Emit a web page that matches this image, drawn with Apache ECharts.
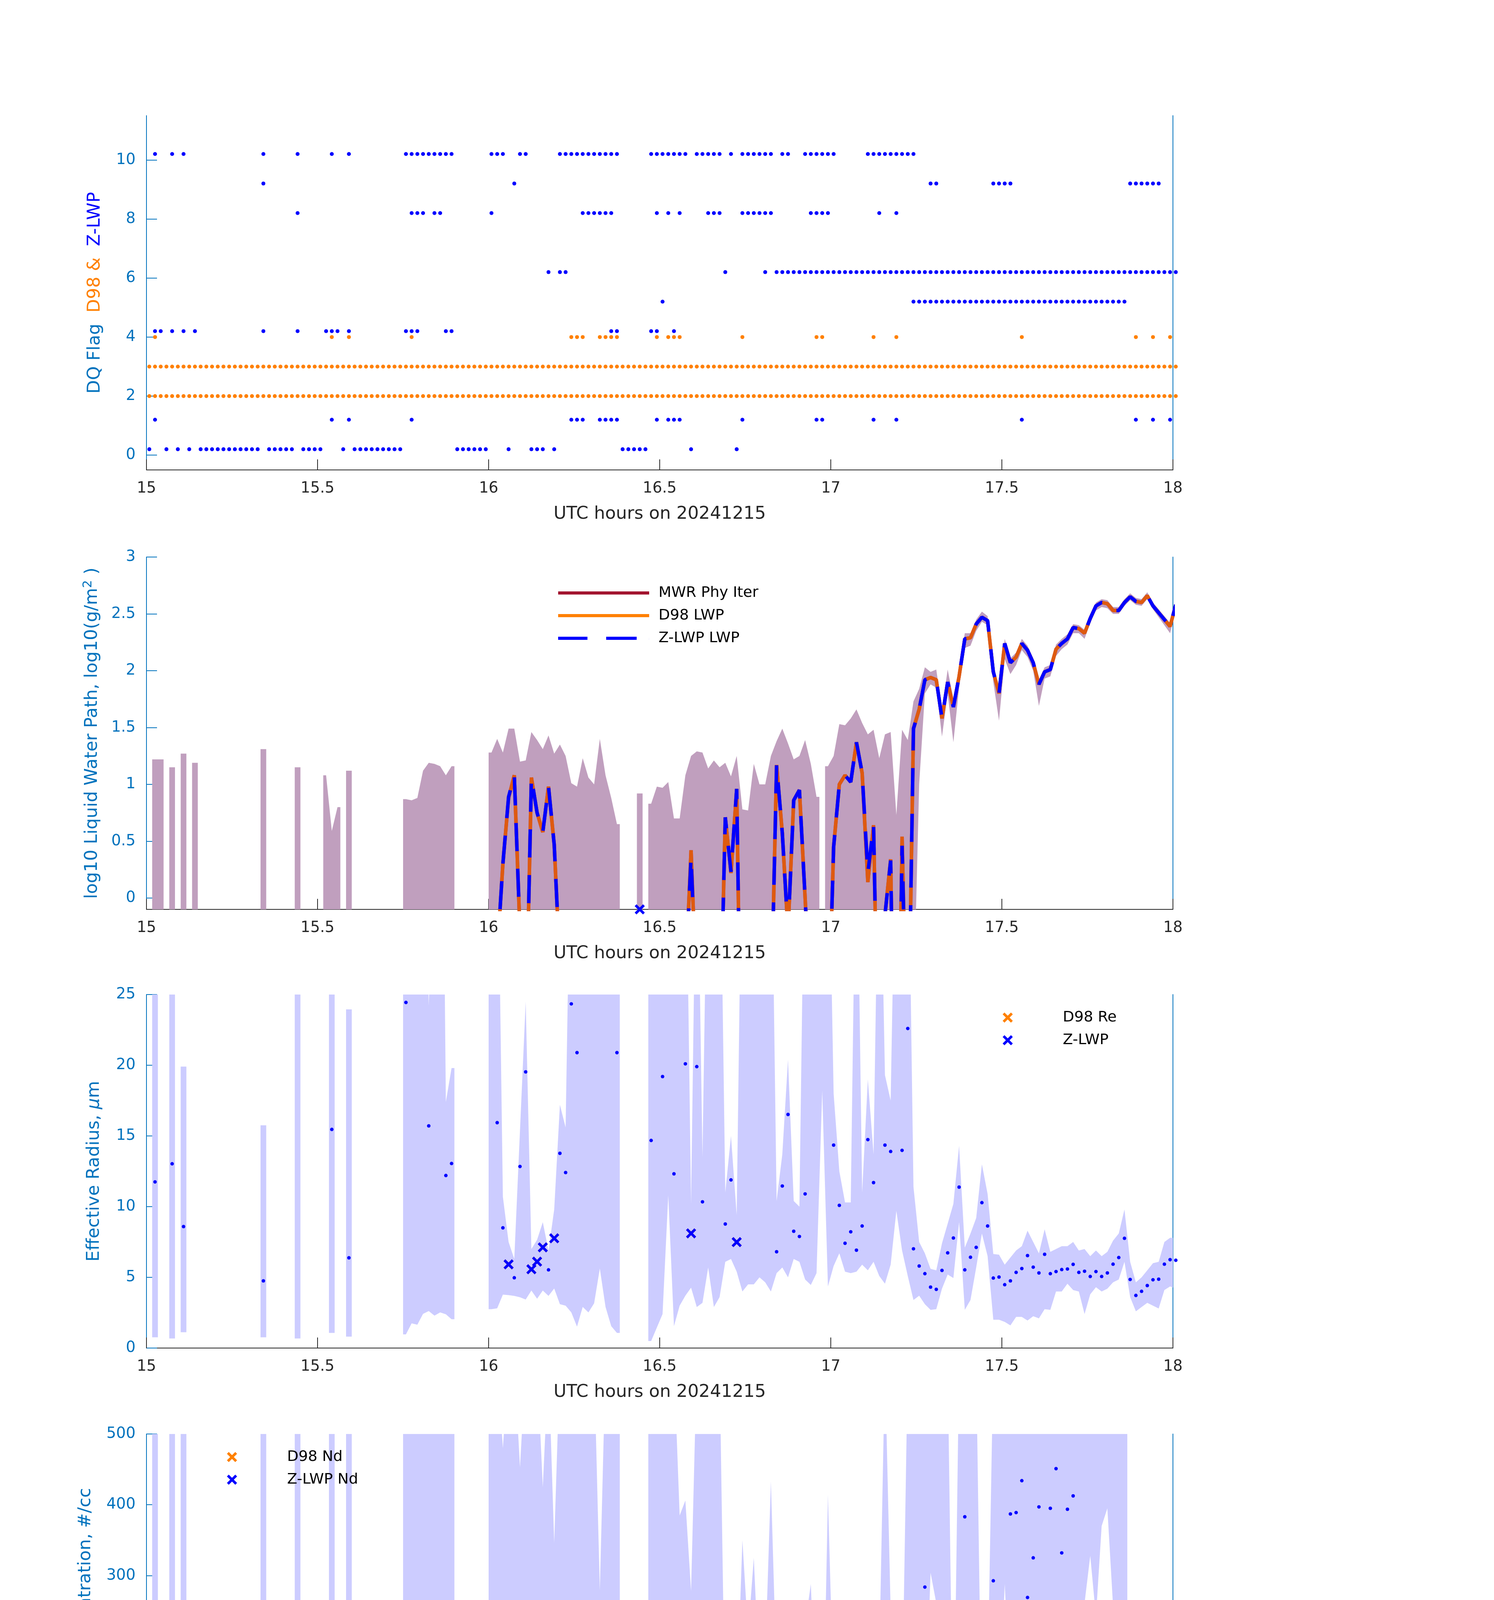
<!DOCTYPE html>
<html>
<head>
<meta charset="utf-8">
<script src="https://cdn.jsdelivr.net/npm/echarts@6/dist/echarts.min.js"></script>
<style>
html, body { margin: 0; padding: 0; background: #fff; }
#chart { width: 3825px; height: 6000px; }
</style>
</head>
<body>
<div id="chart"></div>
<script>
// one-minute bins from 15:00 UTC, bin k is centred at 15 + (k + 0.5) / 60
var startHour = 15;
var binCount = 181;
var flagTicks = [0, 2, 4, 6, 8, 10];
var lwpTicks = [0, 0.5, 1, 1.5, 2, 2.5, 3];

// ---- panel 1: data quality flags, runs of bins [first, last] ----
var d98Flag2Runs = [[0, 180]];
var d98Flag3Runs = [[0, 180]];
var d98Flag4Runs = [[1, 1], [32, 32], [35, 35], [46, 46], [74, 76], [79, 82], [89, 89], [91, 93], [104, 104], [117, 118], [127, 127], [131, 131], [153, 153], [173, 173], [176, 176], [179, 179]];
var zlwpFlag0Runs = [[0, 0], [3, 3], [5, 5], [7, 7], [9, 19], [21, 25], [27, 30], [34, 34], [36, 44], [54, 59], [63, 63], [67, 69], [71, 71], [83, 87], [95, 95], [103, 103]];
var zlwpFlag1Runs = [[1, 1], [32, 32], [35, 35], [46, 46], [74, 76], [79, 82], [89, 89], [91, 93], [104, 104], [117, 118], [127, 127], [131, 131], [153, 153], [173, 173], [176, 176], [179, 179]];
var zlwpFlag4Runs = [[1, 2], [4, 4], [6, 6], [8, 8], [20, 20], [26, 26], [31, 33], [35, 35], [45, 47], [52, 53], [81, 82], [88, 89], [92, 92]];
var zlwpFlag5Runs = [[90, 90], [134, 171]];
var zlwpFlag6Runs = [[70, 70], [72, 73], [101, 101], [108, 108], [110, 180]];
var zlwpFlag8Runs = [[26, 26], [46, 48], [50, 51], [60, 60], [76, 81], [89, 89], [91, 91], [93, 93], [98, 100], [104, 109], [116, 119], [128, 128], [131, 131]];
var zlwpFlag9Runs = [[20, 20], [64, 64], [137, 138], [148, 151], [172, 177]];
var zlwpFlag10Runs = [[1, 1], [4, 4], [6, 6], [20, 20], [26, 26], [32, 32], [35, 35], [45, 53], [60, 62], [65, 66], [72, 82], [88, 94], [96, 100], [102, 102], [104, 109], [111, 112], [115, 120], [126, 134]];

// ---- panel 2: log10 LWP, band rows are [bin, low, high] ----
var lwpBand = [[1,-1,1.22],[2,-1,1.22],[4,-1,1.15],[6,-1,1.27],[8,-1,1.19],[20,-1,1.31],[26,-1,1.15],[31,-1,1.08],[32,-1,0.59],[33,-1,0.80],[35,-1,1.12],
  [45,-1,0.87],[46,-1,0.86],[47,-1,0.88],[48,-1,1.12],[49,-1,1.19],[50,-1,1.18],[51,-1,1.16],[52,-1,1.08],[53,-1,1.16],
  [60,-1,1.28],[61,-1,1.40],[62,-1,1.28],[63,-1,1.49],[64,-1,1.49],[65,-1,1.20],[66,-1,1.21],[67,-1,1.46],[68,-1,1.39],[69,-1,1.31],[70,-1,1.43],[71,-1,1.27],[72,-1,1.35],[73,-1,1.25],[74,-1,1.01],[75,-1,0.98],[76,-1,1.23],[77,-1,1.06],[78,-1,1.00],[79,-1,1.40],[80,-1,1.08],[81,-1,0.88],[82,-1,0.65],
  [86,-1,0.92],
  [88,-1,0.83],[89,-1,0.98],[90,-1,0.97],[91,-1,1.02],[92,-1,0.70],[93,-1,0.70],[94,-1,1.08],[95,-1,1.25],[96,-1,1.29],[97,-1,1.28],[98,-1,1.14],[99,-1,1.21],[100,-1,1.15],[101,-1,1.19],[102,-1,1.07],[103,-1,1.25],[104,-1,0.78],[105,-1,0.77],[106,-1,1.18],[107,-1,1.00],[108,-1,1.00],[109,-1,1.25],[110,-1,1.38],[111,-1,1.49],[112,-1,1.36],[113,-1,1.22],[114,-1,1.25],[115,-1,1.39],[116,-1,1.18],[117,-1,0.89],
  [119,-1,1.16],[120,-1,1.25],[121,-1,1.53],[122,-1,1.52],[123,-1,1.58],[124,-1,1.66],[125,-1,1.54],[126,-1,1.44],[127,-1,1.48],[128,-1,1.23],[129,-1,1.44],[130,-1,1.46],[131,-1,0.73],[132,-1,1.48],[133,-1,1.39],
  [134,-1,1.73],[135,1.0,1.84],[136,1.80,2.03],[137,1.88,1.99],[138,1.85,2.01],[139,1.42,1.66],[140,1.80,2.01],[141,1.37,1.75],[142,1.85,2.00],[143,2.20,2.33],[144,2.22,2.33],[145,2.35,2.45],[146,2.43,2.52],[147,2.40,2.48],[148,1.90,2.03],[149,1.56,1.84],[150,2.10,2.28],[151,1.97,2.11],[152,2.05,2.16],[153,2.18,2.28],[154,2.12,2.22],[155,2.00,2.11],[156,1.69,1.92],[157,1.93,2.03],[158,1.95,2.05],[159,2.13,2.23],[160,2.19,2.28],[161,2.23,2.32],[162,2.33,2.41],[163,2.33,2.40],[164,2.28,2.36],[165,2.42,2.49],[166,2.53,2.60],[167,2.56,2.63],[168,2.55,2.62],[169,2.50,2.56],[170,2.50,2.56],[171,2.57,2.63],[172,2.62,2.68],[173,2.58,2.64],[174,2.57,2.63],[175,2.63,2.69],[176,2.54,2.60],[177,2.47,2.54],[178,2.40,2.48],[179,2.33,2.42],[180,2.52,2.61]];

var zlwpLwp = [[61,-0.5],[62,0.3],[63,0.89],[64,1.08],[65,-0.3],[66,-1.3],[67,1.06],[68,0.75],[69,0.58],[70,0.98],[71,0.47],[72,-0.6],
  [94,-0.74],[95,0.36],[96,-0.93],
  [100,-1.45],[101,0.71],[102,0.23],[103,0.96],[104,-2.4],
  [109,-1.09],[110,1.17],[111,0.57],[112,-0.3],[113,0.86],[114,0.95],[115,0.0],[116,-1],
  [119,-1.3],[120,0.45],[121,1.0],[122,1.08],[123,1.02],[124,1.37],[125,1.10],[126,0.22],[127,0.64],[128,-2],[129,-0.15],[130,0.33],[131,-3],[132,0.46],[133,-1.69],
  [134,1.49],[135,1.66],[136,1.92],[137,1.94],[138,1.92],[139,1.58],[140,1.90],[141,1.68],[142,1.95],[143,2.28],[144,2.29],[145,2.41],[146,2.47],[147,2.44],[148,1.99],[149,1.80],[150,2.24],[151,2.07],[152,2.12],[153,2.24],[154,2.18],[155,2.07],[156,1.88],[157,1.99],[158,2.01],[159,2.19],[160,2.24],[161,2.28],[162,2.38],[163,2.37],[164,2.33],[165,2.46],[166,2.57],[167,2.60],[168,2.59],[169,2.53],[170,2.53],[171,2.60],[172,2.65],[173,2.61],[174,2.60],[175,2.66],[176,2.57],[177,2.51],[178,2.45],[179,2.39],[180,2.58]];
var d98Lwp = [[61,-0.5],[62,0.3],[63,0.88],[64,1.08],[65,-0.3],[66,-1.3],[67,1.06],[68,0.75],[69,0.58],[70,0.98],[71,0.47],[72,-0.6],
  [94,-0.74],[95,0.42],[96,-0.93],
  [100,-1.45],[101,0.71],[102,0.22],[103,0.96],[104,-2.4],
  [109,-1.09],[110,1.17],[111,0.57],[112,-0.3],[113,0.86],[114,0.95],[115,0.0],[116,-1],
  [119,-1.3],[120,0.45],[121,1.0],[122,1.08],[123,1.02],[124,1.37],[125,1.10],[126,0.14],[127,0.64],[128,-2],[129,-0.15],[130,0.34],[131,-3],[132,0.54],[133,-1.69],
  [134,1.49],[135,1.66],[136,1.92],[137,1.94],[138,1.92],[139,1.58],[140,1.90],[141,1.68],[142,1.95],[143,2.28],[144,2.29],[145,2.41],[146,2.47],[147,2.44],[148,1.99],[149,1.80],[150,2.24],[151,2.07],[152,2.12],[153,2.24],[154,2.18],[155,2.07],[156,1.88],[157,1.99],[158,2.01],[159,2.19],[160,2.24],[161,2.28],[162,2.38],[163,2.37],[164,2.33],[165,2.46],[166,2.57],[167,2.60],[168,2.59],[169,2.53],[170,2.53],[171,2.60],[172,2.65],[173,2.61],[174,2.60],[175,2.66],[176,2.57],[177,2.51],[178,2.45],[179,2.39],[180,2.58]];
var mwrLwp = d98Lwp; // MWR retrieval lies under the D98 line
var zlwpLwpSingle = [[86, -0.1]];

// ---- panel 3: effective radius ----
var reBand = [[1,0.76,40],[4,0.68,40],[6,1.12,19.9],[20,0.76,15.75],[26,0.68,40],[32,1.07,40],[35,0.81,23.95],
  [45,0.97,40],[46,1.75,40],[47,1.65,40],[48,2.42,40],[49,2.62,24.2],[50,2.29,40],[51,2.52,60],[52,2.39,17.4],[53,2.04,19.8],
  [60,2.75,40],[61,2.81,40],[62,3.78,10.7],[63,3.74,7.5],[64,3.69,6.3],[65,3.59,15.4],[66,3.43,24.5],[67,4.07,7.0],[68,3.49,7.66],[69,4.07,8.9],[70,3.69,6.9],[71,4.21,9.8],[72,3.1,17.2],[73,3.0,15.6],[74,2.52,40],[75,1.51,40],[76,2.91,40],[77,2.52,40],[78,3.16,40],[79,5.62,40],[80,2.91,40],[81,1.55,40],[82,1.07,40],
  [88,0.5,40],[89,1.45,40],[90,2.4,40],[91,10.8,40],[92,1.55,40],[93,3.0,40],[94,3.7,40],[95,4.27,10.2],[96,2.9,40],[97,3.2,13.5],[98,5.7,40],[99,2.9,40],[100,3.6,40],[101,6.1,11.0],[102,6.3,15.0],[103,5.4,9.4],[104,4.0,40],[105,4.5,40],[106,4.5,40],[107,5.0,40],[108,4.65,40],[109,4.0,40],[110,5.3,10.4],[111,5.7,13.7],[112,5.0,20.4],[113,6.3,10.4],[114,6.1,10.0],[115,4.85,40],[116,4.46,40],[117,5.3,40],[118,18.2,40],[119,4.36,40],[120,5.8,18],[121,6.7,12.5],[122,5.4,10.3],[123,5.3,10.3],[124,5.4,40],[125,5.9,11.0],[126,5.5,19.0],[127,6.1,13.7],[128,5.1,40],[129,4.55,19.3],[130,5.9,17.5],[131,9.7,40],[132,6.9,40],[133,5.1,40],
  [134,3.4,11.4],[135,3.7,7.5],[136,3.1,6.7],[137,2.7,5.6],[138,2.75,5.5],[139,4.2,7.4],[140,5.2,8.8],[141,4.95,10.2],[142,8.9,14.3],[143,2.7,7.1],[144,3.4,8.1],[145,5.7,9.2],[146,8.1,13.0],[147,6.5,10.9],[148,2.0,6.65],[149,2.0,6.6],[150,1.85,5.9],[151,1.6,6.4],[152,2.2,6.9],[153,2.2,7.2],[154,1.95,8.3],[155,2.25,7.5],[156,2.1,6.7],[157,2.75,8.4],[158,2.7,6.8],[159,4.0,7.0],[160,4.0,7.2],[161,4.55,7.2],[162,4.1,7.5],[163,4.0,6.9],[164,2.4,7.0],[165,3.8,6.5],[166,4.3,6.9],[167,4.0,6.5],[168,4.2,6.8],[169,4.65,7.6],[170,4.85,8.1],[171,6.1,9.8],[172,3.6,6.1],[173,2.6,4.65],[174,2.9,5.0],[175,3.2,5.5],[176,3.0,6.0],[177,2.8,6.1],[178,4.1,7.5],[179,4.36,7.8],[180,4.2,7.8]];
var reDots = [[1,11.75],[4,13.03],[6,8.59],[20,4.75],[32,15.46],[35,6.38],[45,24.44],[49,15.71],[52,12.2],[53,13.05],[61,15.94],[62,8.5],[64,4.97],[65,12.84],[66,19.53],[70,5.53],[72,13.77],[73,12.41],[74,24.34],[75,20.89],[82,20.89],
  [88,14.68],[90,19.2],[92,12.32],[94,20.1],[96,19.9],[97,10.34],[101,8.77],[102,11.89],[110,6.81],[111,11.46],[112,16.52],[113,8.26],[114,7.89],[115,10.9],[120,14.35],[121,10.09],[122,7.41],[123,8.22],[124,6.92],[125,8.63],[126,14.74],[127,11.7],[129,14.35],[130,13.9],[132,13.98],[133,22.6],
  [134,7.02],[135,5.8],[136,5.26],[137,4.31],[138,4.15],[139,5.49],[140,6.73],[141,7.78],[142,11.38],[143,5.53],[144,6.42],[145,7.12],[146,10.28],[147,8.63],[148,4.95],[149,5.02],[150,4.48],[151,4.75],[152,5.35],[153,5.62],[154,6.54],[155,5.72],[156,5.31],[157,6.63],[158,5.26],[159,5.41],[160,5.55],[161,5.59],[162,5.92],[163,5.35],[164,5.43],[165,5.06],[166,5.41],[167,5.06],[168,5.31],[169,5.93],[170,6.4],[171,7.76],[172,4.85],[173,3.72],[174,4.01],[175,4.42],[176,4.83],[177,4.87],[178,5.93],[179,6.25],[180,6.21]];
var reZlwp = [[63,5.92],[67,5.57],[68,6.11],[69,7.12],[71,7.76],[95,8.11],[103,7.49]];
var reD98 = [[63,5.92],[67,5.57],[68,6.11],[69,7.12],[71,7.76],[95,8.11],[103,7.49]];

// ---- panel 4: droplet concentration ----
var ndBand = [[1,-10,600],[4,-10,600],[6,-10,600],[20,-10,600],[26,-10,600],[32,-10,600],[35,-10,600],
  [45,-10,600],[46,-10,600],[47,-10,600],[48,-10,600],[49,-10,600],[50,-10,600],[51,-10,600],[52,-10,600],[53,-10,600],
  [60,-10,600],[61,-10,600],[62,-10,480],[63,18,600],[64,59,600],[65,-10,453],[66,-10,600],[67,38.7,600],[68,23,600],[69,7.7,425],[70,32.5,600],[71,-10,346],[72,-10,600],[73,-10,600],[74,-10,600],[75,-10,600],[76,-10,600],[77,-10,600],[78,-10,600],[79,-10,279],[80,-10,600],[81,-10,600],[82,-10,600],
  [88,-10,600],[89,-10,600],[90,-10,600],[91,-10,600],[92,-10,600],[93,-10,385],[94,-10,406],[95,-10,278],[96,-10,600],[97,-10,600],[98,-10,600],[99,-10,600],[100,-10,600],[101,-10,72],[102,-10,58],[103,13.5,114.5],[104,-10,350],[105,-10,217],[106,-10,325],[107,-10,147],[108,-10,182],[109,-10,433],[110,-10,154],[111,-10,151],[112,-10,263],[113,-10,69],[114,-10,75],[115,-10,230],[116,-10,288],[117,-10,87],[118,-10,2],[119,-10,414],[120,-10,120],[121,-10,100],[122,-10,178],[123,-10,258],[124,-10,258],[125,-10,159],[126,-10,229],[127,-10,123],[128,-10,180],[129,-10,600],[130,-10,250],[131,-10,10],[132,-10,110],[133,-10,600],
  [134,4,600],[135,38.7,600],[136,79,600],[137,304,600],[138,261,600],[139,48,600],[140,58,600],[141,7.7,12],[142,7.7,600],[143,166,600],[144,81,600],[145,56,600],[146,25,40],[147,35,147],[148,97,600],[149,87,600],[150,288,600],[151,132,600],[152,159,600],[153,190,600],[154,124,600],[155,139,600],[156,168,600],[157,115,600],[158,172,600],[159,193,600],[160,147,600],[161,174,600],[162,186,600],[163,253,600],[164,261,600],[165,328,600],[166,242,600],[167,370,600],[168,395,600],[169,257,600],[170,120,600],[171,73.5,600],
  [180,447,600]];
var ndDots = [[1,0],[4,0],[6,0],[20,3],[26,0],[32,0],[35,0],[45,0],[46,0],[47,0],[48,0],[49,0],[50,0],[51,0],[52,0],[53,0],[60,0],[61,0],[62,3.9],[64,117.6],[65,0],[66,0],[70,65.8],[72,0],[73,0],[74,0],[75,0],[76,0],[77,0],[78,0],[79,0],[80,0],[81,0],[82,0],
  [88,0],[89,0],[90,0],[91,0],[92,0],[93,0],[94,0],[96,0],[97,0],[98,0],[99,0],[100,0],[101,7.7],[102,1.5],[104,0],[105,0],[106,0],[107,0],[108,0],[109,0],[110,47.2],[111,2.7],[112,0],[113,12.8],[114,18.2],[115,1.5],[116,0],[117,0],[118,0],[119,0],[120,0],[121,8.1],[122,31.7],[123,18.2],[124,65],[125,17],[126,0.8],[127,2.7],[128,0],[129,0],[130,0.8],[131,0],[132,1.5],[133,0],
  [134,57.7],[135,153],[136,283.7],[139,116.9],[140,138.5],[141,35.6],[142,15.5],[143,383],[144,183],[145,120],[146,49.5],[147,70],[148,292.6],[149,262.4],[151,387],[152,389],[153,434],[154,269],[155,325],[156,397],[157,251],[158,395],[159,451],[160,332],[161,393.6],[162,412.5],[170,255],[171,147.8]];
var ndZlwp = [[63,37.9],[67,76.6],[68,34.8],[69,15.5],[71,8.9],[95,5.8],[103,27.9]];
var ndD98 = [[63,37.9],[67,76.6],[68,34.8],[69,15.5],[71,8.9],[95,5.8],[103,27.9]];

// ---- panel 5: optical depth ----
var odBand = [[1,-1,35.6],[4,-1,32.6],[6,-1,25.8],[20,-1,42.3],[26,-1,32.2],[32,-1,5.8],[35,-1,26.3],
  [45,-1,12.5],[46,-1,6.5],[47,-1,7.7],[48,-1,8.5],[49,-1,9.1],[50,-1,10.2],[51,-1,8.7],[52,-1,7.7],[53,-1,11.1],
  [60,-1,10.5],[61,-1,14.1],[62,-1,7.7],[63,-1,12.7],[64,3.6,12.8],[65,-1,7.0],[66,-1,7.4],[67,-1,10.8],[68,-1,10.2],[69,-1,7.7],[70,-1,10.8],[71,-1,6.7],[72,-1,11.3],[73,-1,9.1],[74,-1,6.3],[75,-1,9.8],[76,-1,8.8],[77,-1,7.3],[78,-1,5.2],[79,-1,7.1],[80,-1,6.3],[81,-1,7.5],[82,-1,7.1],
  [88,-1,23.1],[89,-1,9.4],[90,-1,6.3],[91,-1,1.7],[92,-1,5.3],[93,-1,2.9],[94,-1,5.2],[95,-1,6.3],[96,-1,10.2],[97,-1,9.4],[98,-1,3.6],[99,-1,8.5],[100,-1,6.3],[101,-1,3.6],[102,-1,2.6],[103,-1,4.8],[104,-1,2.2],[105,-1,2.1],[106,-1,5.2],[107,-1,3.3],[108,-1,3.4],[109,-1,6.6],[110,-1,6.7],[111,-1,8.3],[112,-1,7.3],[113,-1,4.2],[114,-1,4.4],[115,-1,7.7],[116,-1,5.6],[117,-1,2.5],[118,-1,0.3],[119,-1,5.2],[120,-1,4.8],[121,-1,7.9],[122,-1,9.4],[123,-1,11.1],[124,-1,13.1],[125,-1,9.1],[126,-1,7.5],[127,-1,7.5],[128,-1,4.8],[129,-1,9.4],[130,-1,7.5],[131,-1,0.3],[132,-1,7.1],[133,-1,7.3],
  [134,0.9,16.8],[135,5.2,21.8],[136,21.8,42.3],[137,24.1,50.5],[138,21.8,47],[139,6.3,18.7],[140,12.2,27.2],[141,4.0,16.4],[142,8.7,14.1],[143,42,150],[144,36.5,69],[145,42.7,66],[146,35.8,56.7],[147,38.9,63.2],[148,27.2,77.2],[149,9.8,48.5],[150,45.4,150],[151,28.4,150],[152,29.6,91],[153,37.7,150],[154,28.8,150],[155,25.7,73],[156,12.9,53.6],[157,18,62.5],[158,23.4,57.4],[159,32.7,89.2],[160,37.3,65.9],[161,40,73.7],[162,48.9,80.3],[163,52.8,90],[164,48.9,150],[165,66.3,150],[166,85.3,150],[167,96.9,150],[168,87.6,150],[169,68.7,150],[170,64,150],[171,62.5,150],
  [176,93.4,150],[177,75.2,150],[178,59,150],[179,47,150],[180,59.8,150]];
var odDots = [[1,0],[4,0],[6,0],[20,0],[26,0],[32,0],[35,0],[45,0],[46,0],[47,0],[48,0],[49,0],[50,0],[51,0],[52,0],[53,0],[60,0],[61,0],[62,0.5],[64,3.6],[65,0],[66,0],[70,2.7],[72,0],[73,0],[74,0],[75,0],[76,0],[77,0],[78,0],[79,0],[80,0],[81,0],[82,0],
  [88,0],[89,0],[90,0],[91,0],[92,0],[93,0],[94,0],[96,0],[97,0],[98,0],[99,0],[100,0],[101,1.0],[102,0.3],[104,0],[105,0],[106,0],[107,0],[108,0],[109,0],[110,3.4],[111,0.6],[112,0],[113,1.4],[114,1.8],[115,0.3],[116,0],[117,0],[118,0],[119,0],[120,0],[121,1.5],[122,2.9],[123,1.9],[124,5.3],[125,2.1],[126,0],[127,0.6],[128,0],[129,0],[130,0.3],[131,0],[132,0.5],[133,0],
  [134,6.9],[135,12.5],[136,24.5],[137,31.7],[138,30.7],[139,10.7],[140,19.3],[141,9.6],[142,11.2],[143,54.5],[144,46.9],[145,55.1],[146,44.8],[147,49.5],[148,33],[149,19.3],[150,60.9],[151,39.2],[152,39.2],[153,49.3],[154,36.9],[155,33.4],[156,22.2],[157,23.8],[158,31],[159,46.3],[160,47.8],[161,52.2],[162,63],[163,69],[164,63],[165,87],[169,87.6],[170,82],[171,79],[178,71.7],[179,58.9],[180,81.3]];
var odZlwp = [[63,2.1],[67,3.1],[68,1.3],[69,1.1],[71,0.8],[95,0.8],[103,1.9]];
var odD98 = [[63,2.1],[67,3.1],[68,1.3],[69,1.1],[71,0.8],[95,0.8],[103,1.9]];

// ---- styling ----
var fontFamily = 'DejaVu Sans';
var axisBlue = '#0072BD';
var axisDark = '#262626';
var markBlue = '#0000FF';
var markOrange = '#FF8000';
var mwrRed = '#A2142F';
var lwpBandColor = '#C09FBE';
var retBandColor = '#CCCCFF';
var crossSymbol = 'path://M0,1.8L1.8,0L5,3.2L8.2,0L10,1.8L6.8,5L10,8.2L8.2,10L5,6.8L1.8,10L0,8.2L3.2,5Z';
var solidLegendIcon = 'path://M0,0H233V1H0Z';
var dashedLegendIcon = 'path://M0,0H75V1H0ZM123,0H201V1H123ZM233,0L233,1L232.9,1Z';
var zlwpFlagOffset = 0.2;   // Z-LWP flags are drawn a little above the D98 ones

var panelTops = [296, 1426, 2546, 3671, 4796];
var panelHeights = [907, 902, 905, 906, 906];

function binCenter(k) { return startHour + (k + 0.5) / 60; }
function binEdge(k) { return startHour + k / 60; }

function runsToBins(runs) {
  var out = [];
  runs.forEach(function (r) { for (var k = r[0]; k <= r[1]; k++) out.push(k); });
  return out;
}
function flagPoints(runs, level, offset) {
  return runsToBins(runs).map(function (k) { return [binCenter(k), level + offset]; });
}
function pairsToPoints(pairs) {
  return pairs.map(function (p) { return [binCenter(p[0]), p[1]]; });
}
function pairsToLine(pairs) {
  var m = {};
  pairs.forEach(function (p) { m[p[0]] = p[1]; });
  var out = [];
  for (var k = 0; k < binCount; k++) out.push([binCenter(k), m[k] === undefined ? '-' : m[k]]);
  return out;
}

function bandSeries(i, rows, color) {
  var lo = {}, hi = {};
  rows.forEach(function (r) { lo[r[0]] = r[1]; hi[r[0]] = r[2]; });
  var runs = [], run = null;
  for (var k = 0; k < binCount; k++) {
    if (hi[k] === undefined) { run = null; continue; }
    if (!run) { run = []; runs.push(run); }
    run.push(k);
  }
  return {
    type: 'custom', xAxisIndex: i, yAxisIndex: 2 * i, clip: true, silent: true, z: 1,
    data: runs.map(function (r) { return [binCenter(r[0]), hi[r[0]]]; }),
    renderItem: function (params, api) {
      var r = runs[params.dataIndex];
      var first = r[0], last = r[r.length - 1];
      var top = [api.coord([binEdge(first), hi[first]])];
      var bot = [api.coord([binEdge(first), lo[first]])];
      r.forEach(function (k) {
        top.push(api.coord([binCenter(k), hi[k]]));
        bot.push(api.coord([binCenter(k), lo[k]]));
      });
      top.push(api.coord([binEdge(last + 1), hi[last]]));
      bot.push(api.coord([binEdge(last + 1), lo[last]]));
      var cs = params.coordSys;
      return {
        type: 'polygon',
        shape: { points: top.concat(bot.reverse()) },
        style: { fill: color },
        clipPath: { type: 'rect', shape: { x: cs.x, y: cs.y, width: cs.width, height: cs.height } }
      };
    }
  };
}

function scatterSeries(i, name, points, color, symbol, size, z) {
  return {
    type: 'scatter', name: name, xAxisIndex: i, yAxisIndex: 2 * i, data: points,
    symbol: symbol, symbolSize: size, itemStyle: { color: color, opacity: 1 },
    clip: false, silent: true, z: z
  };
}

function lineSeries(i, name, pairs, color, width, type, opacity, z) {
  return {
    type: 'line', name: name, xAxisIndex: i, yAxisIndex: 2 * i, data: pairsToLine(pairs),
    symbol: 'none', showSymbol: false, connectNulls: false, clip: true, silent: true, z: z,
    itemStyle: { color: color },
    lineStyle: { color: color, width: width, type: type, opacity: opacity, cap: 'butt' }
  };
}

function xAxisFor(i) {
  return {
    type: 'value', gridIndex: i, min: 15, max: 18, interval: 0.5,
    name: 'UTC hours on 20241215', nameLocation: 'middle', nameGap: 91,
    nameTextStyle: { color: axisDark, fontSize: 45, fontFamily: fontFamily },
    axisLine: { show: true, onZero: false, lineStyle: { color: axisDark, width: 2 } },
    axisTick: { show: true, inside: true, length: 27, lineStyle: { color: axisDark, width: 2 } },
    axisLabel: { show: true, color: axisDark, fontSize: 39, fontFamily: fontFamily, margin: 28 },
    splitLine: { show: false }
  };
}

function yAxesFor(i, cfg) {
  var left = {
    type: 'value', gridIndex: i, position: 'left', min: cfg.min, max: cfg.max,
    name: cfg.name, nameLocation: 'middle', nameGap: cfg.nameGap, nameRotate: 90,
    nameTextStyle: { color: axisBlue, fontSize: 45, fontFamily: fontFamily, lineHeight: 52, rich: cfg.rich },
    axisLine: { show: true, onZero: false, lineStyle: { color: axisBlue, width: 2 } },
    axisTick: { show: true, inside: true, length: 27, lineStyle: { color: axisBlue, width: 2 } },
    axisLabel: { show: true, color: axisBlue, fontSize: 39, fontFamily: fontFamily, margin: 28 },
    splitLine: { show: false }
  };
  if (cfg.ticks) {
    left.axisTick.customValues = cfg.ticks;
    left.axisLabel.customValues = cfg.ticks;
  } else {
    left.interval = cfg.interval;
  }
  var right = {
    type: 'value', gridIndex: i, position: 'right', min: cfg.min, max: cfg.max,
    axisLine: { show: true, onZero: false, lineStyle: { color: axisBlue, width: 2 } },
    axisTick: { show: false }, axisLabel: { show: false }, splitLine: { show: false }
  };
  return [left, right];
}

function richStyle(color, extra) {
  var s = { color: color, fontSize: 45, fontFamily: fontFamily, lineHeight: 52 };
  for (var key in extra) s[key] = extra[key];
  return s;
}

var yAxes = [].concat(
  yAxesFor(0, { min: -0.5, max: 11.5, ticks: flagTicks, nameGap: 106,
    name: '{a|DQ Flag}  {b|D98 &}  {c|Z-LWP}',
    rich: { a: richStyle(axisBlue), b: richStyle(markOrange), c: richStyle(markBlue) } }),
  yAxesFor(1, { min: -0.1, max: 3, ticks: lwpTicks, nameGap: 113,
    name: '{n|log10 Liquid Water Path, log10(g/m}{s|2}{n| )}',
    rich: { n: richStyle(axisBlue), s: richStyle(axisBlue, { fontSize: 32, lineHeight: 32, verticalAlign: 'top' }) } }),
  yAxesFor(2, { min: 0, max: 25, interval: 5, nameGap: 108,
    name: '{n|Effective Radius, }{i|\u03bc}{n|m}',
    rich: { n: richStyle(axisBlue), i: richStyle(axisBlue, { fontStyle: 'italic' }) } }),
  yAxesFor(3, { min: 0, max: 500, interval: 100, nameGap: 130, name: 'Droplet Concentration, #/cc' }),
  yAxesFor(4, { min: 0, max: 100, interval: 20, nameGap: 130, name: 'Optical Depth' })
);

var grids = panelTops.map(function (top, i) {
  return { left: 375, width: 2628, top: top, height: panelHeights[i], containLabel: false };
});

var legendText = { fontSize: 38, fontFamily: fontFamily, color: '#000', lineHeight: 44 };
function markerLegend(left, top, names) {
  return {
    orient: 'vertical', left: left, top: top, itemWidth: 272, itemHeight: 26, itemGap: 14,
    selectedMode: false, data: names, textStyle: legendText
  };
}

var d98FlagPoints = [].concat(
  flagPoints(d98Flag2Runs, 2, 0), flagPoints(d98Flag3Runs, 3, 0), flagPoints(d98Flag4Runs, 4, 0));
var zlwpFlagPoints = [].concat(
  flagPoints(zlwpFlag0Runs, 0, zlwpFlagOffset), flagPoints(zlwpFlag1Runs, 1, zlwpFlagOffset),
  flagPoints(zlwpFlag4Runs, 4, zlwpFlagOffset), flagPoints(zlwpFlag5Runs, 5, zlwpFlagOffset),
  flagPoints(zlwpFlag6Runs, 6, zlwpFlagOffset), flagPoints(zlwpFlag8Runs, 8, zlwpFlagOffset),
  flagPoints(zlwpFlag9Runs, 9, zlwpFlagOffset), flagPoints(zlwpFlag10Runs, 10, zlwpFlagOffset));

var series = [
  scatterSeries(0, 'D98 flag', d98FlagPoints, markOrange, 'circle', 10, 3),
  scatterSeries(0, 'Z-LWP flag', zlwpFlagPoints, markBlue, 'circle', 10, 4),

  bandSeries(1, lwpBand, lwpBandColor),
  lineSeries(1, 'MWR Phy Iter', mwrLwp, mwrRed, 9, 'solid', 1, 3),
  lineSeries(1, 'D98 LWP', d98Lwp, markOrange, 9, 'solid', 0.65, 4),
  lineSeries(1, 'Z-LWP LWP', zlwpLwp, markBlue, 9, [72, 45], 1, 5),
  scatterSeries(1, 'Z-LWP LWP single', pairsToPoints(zlwpLwpSingle), markBlue, crossSymbol, 26, 6),

  bandSeries(2, reBand, retBandColor),
  scatterSeries(2, 'Z-LWP Re all', pairsToPoints(reDots), markBlue, 'circle', 9, 3),
  scatterSeries(2, 'D98 Re', pairsToPoints(reD98), markOrange, crossSymbol, 26, 4),
  scatterSeries(2, 'Z-LWP', pairsToPoints(reZlwp), markBlue, crossSymbol, 26, 5),

  bandSeries(3, ndBand, retBandColor),
  scatterSeries(3, 'Z-LWP Nd all', pairsToPoints(ndDots), markBlue, 'circle', 9, 3),
  scatterSeries(3, 'D98 Nd', pairsToPoints(ndD98), markOrange, crossSymbol, 26, 4),
  scatterSeries(3, 'Z-LWP Nd', pairsToPoints(ndZlwp), markBlue, crossSymbol, 26, 5),

  bandSeries(4, odBand, retBandColor),
  scatterSeries(4, 'Z-LWP OD all', pairsToPoints(odDots), markBlue, 'circle', 9, 3),
  scatterSeries(4, 'D98 OD', pairsToPoints(odD98), markOrange, crossSymbol, 26, 4),
  scatterSeries(4, 'Z-LWP Nd', pairsToPoints(odZlwp), markBlue, crossSymbol, 26, 5)
];

var chart = echarts.init(document.getElementById('chart'), null, { renderer: 'canvas', width: 3825, height: 6000 });
chart.setOption({
  backgroundColor: '#ffffff',
  animation: false,
  textStyle: { fontFamily: fontFamily },
  grid: grids,
  xAxis: [0, 1, 2, 3, 4].map(xAxisFor),
  yAxis: yAxes,
  legend: [
    {
      orient: 'vertical', left: 1424, top: 1491, itemWidth: 233, itemHeight: 8, itemGap: 14,
      symbolKeepAspect: false, selectedMode: false, itemStyle: { borderWidth: 0 },
      textStyle: { fontSize: 38, fontFamily: fontFamily, color: '#000', lineHeight: 44, padding: [0, 0, 0, 19] },
      data: [
        { name: 'MWR Phy Iter', icon: solidLegendIcon },
        { name: 'D98 LWP', icon: solidLegendIcon },
        { name: 'Z-LWP LWP', icon: dashedLegendIcon }
      ]
    },
    markerLegend(2562, 2578, ['D98 Re', 'Z-LWP']),
    markerLegend(576, 3703, ['D98 Nd', 'Z-LWP Nd']),
    markerLegend(1233, 4828, ['D98 OD', 'Z-LWP Nd'])
  ],
  series: series
});
</script>
</body>
</html>
